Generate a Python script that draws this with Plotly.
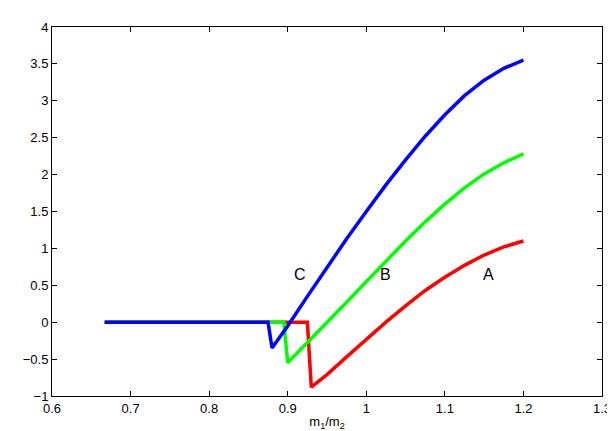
import plotly.graph_objects as go

a_x = [0.667, 0.925, 0.93, 0.94, 0.95, 0.975, 1.0, 1.025, 1.05, 1.075, 1.1, 1.125, 1.15, 1.175, 1.2]
a_y = [0, 0, -0.88, -0.8, -0.71, -0.47, -0.23, 0.0, 0.22, 0.43, 0.61, 0.77, 0.91, 1.02, 1.1]
b_x = [0.667, 0.895, 0.9, 0.925, 0.95, 0.975, 1.0, 1.025, 1.05, 1.075, 1.1, 1.125, 1.15, 1.175, 1.2]
b_y = [0, 0, -0.55, -0.28, -0.01, 0.27, 0.55, 0.83, 1.1, 1.36, 1.6, 1.82, 2.01, 2.16, 2.28]
c_x = [0.667, 0.875, 0.88, 0.9, 0.925, 0.95, 0.975, 1.0, 1.025, 1.05, 1.075, 1.1, 1.125, 1.15, 1.175, 1.2]
c_y = [0, 0, -0.35, -0.05, 0.35, 0.75, 1.13, 1.5, 1.86, 2.2, 2.52, 2.81, 3.07, 3.28, 3.44, 3.55]
labels = [("A", 1.155, 0.65), ("B", 1.025, 0.65), ("C", 0.915, 0.65)]

fig = go.Figure()
for x, y, col in [(a_x, a_y, "#ff0000"), (b_x, b_y, "#00ff00"), (c_x, c_y, "#0000ff")]:
    fig.add_trace(go.Scatter(x=x, y=y, mode="lines", line=dict(color=col, width=3.5), showlegend=False))
for t, x, y in labels:
    fig.add_annotation(x=x, y=y, text=t, showarrow=False, font=dict(size=16, color="black"))

ax = dict(showgrid=False, zeroline=False, mirror="ticks", showline=True, linecolor="black", linewidth=1,
          ticks="inside", ticklen=5, tickcolor="black", tickfont=dict(size=13, color="black"))
fig.update_xaxes(range=[0.6, 1.3], dtick=0.1, title=dict(text="m<sub>1</sub>/m<sub>2</sub>", font=dict(size=13), standoff=2), **ax)
fig.update_yaxes(range=[-1, 4], dtick=0.5, **ax)
fig.update_layout(width=615, height=431, plot_bgcolor="white", paper_bgcolor="white",
                  font=dict(family="Liberation Sans, Arial", color="black"),
                  margin=dict(l=44, r=12, t=12, b=32))
fig.write_html("out.html")
